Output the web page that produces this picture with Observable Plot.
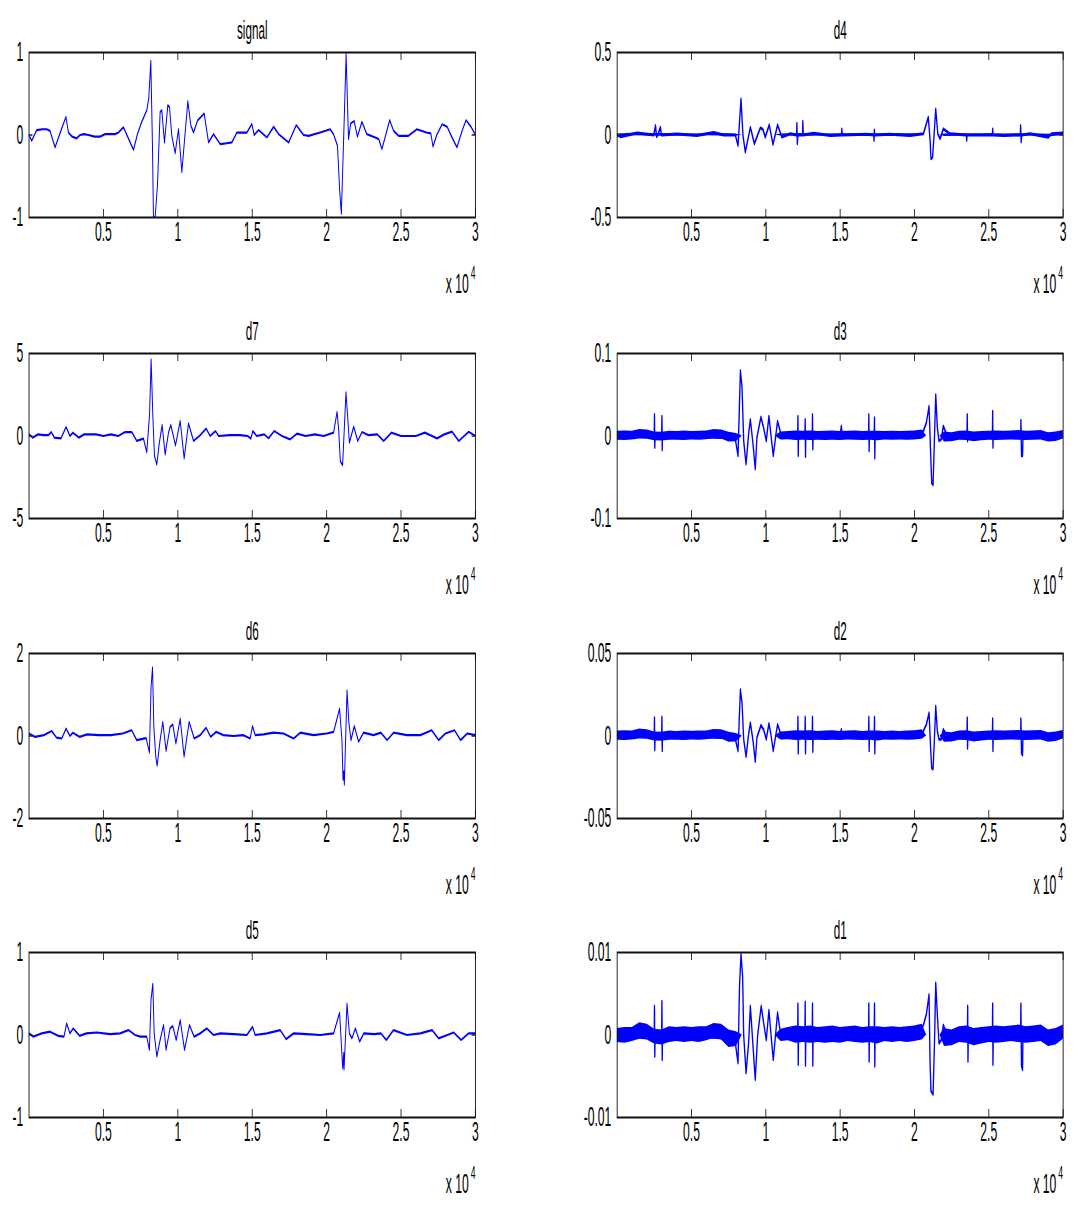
<!DOCTYPE html>
<html>
<head>
<meta charset="utf-8">
<script src="https://cdn.jsdelivr.net/npm/d3@7"></script>
<script src="https://cdn.jsdelivr.net/npm/@observablehq/plot@0.6"></script>
<style>
  html, body { margin: 0; padding: 0; background: #fff; overflow: hidden; }
  /* the figure is laid out wide and then compressed horizontally */
  #fig { position: relative; width: 2402px; height: 1209px; transform: scaleX(0.45); transform-origin: 0 0; }
  #fig svg { position: absolute; }
</style>
</head>
<body>
<div id="fig"></div>
<script>
// Sample index (0..30000) and amplitude of each trace, as [x, y] pairs.
const signal = [[0,0],[180,-0.07],[520,0.06],[900,0.07],[1190,0.07],[1410,0.05],[1750,-0.15],[2100,0.03],[2480,0.22],[2650,0.03],[2900,-0.02],[3200,-0.04],[3430,0],[3700,0.01],[3990,0],[4400,-0.02],[4780,-0.02],[5110,0.01],[5780,0.01],[6010,0.03],[6345,0.095],[6700,-0.05],[7018,-0.18],[7300,0.02],[7578,0.16],[7914,0.30],[8050,0.45],[8184,0.90],[8296,-0.13],[8363,-1.0],[8475,-1.0],[8632,-0.61],[8811,0.28],[8923,0.30],[9103,-0.09],[9327,0.36],[9440,0.34],[9597,-0.01],[9821,-0.22],[10046,0.07],[10270,-0.45],[10494,0.03],[10674,0.41],[10875,0.115],[11055,0.03],[11324,0.175],[11772,0.26],[12064,-0.09],[12400,0.01],[12848,-0.11],[13300,-0.10],[13633,-0.09],[13970,0.03],[14640,0.03],[14976,0.135],[15130,0.0],[15430,0.06],[15990,-0.03],[16440,0.10],[16780,0.01],[17450,-0.09],[17960,0.12],[18450,0.0],[18790,-0.01],[19570,0.03],[20240,0.07],[20460,0.01],[20730,-0.13],[20870,-0.65],[20990,-0.955],[21130,-0.13],[21310,0.98],[21470,-0.05],[21620,0.14],[21850,0.17],[22070,-0.02],[22370,0.16],[22700,0.01],[23270,-0.03],[23500,-0.05],[23720,-0.17],[24240,0.18],[24500,0.05],[24840,-0.01],[25500,-0.01],[26070,0.07],[26700,0.03],[27000,0.02],[27150,-0.14],[27400,0.0],[27760,0.13],[28100,0.10],[28400,-0.02],[28760,-0.15],[29100,0.05],[29370,0.18],[29700,0.10],[30000,0.0]];

const d7 = [[0,0.1],[250,-0.1],[600,0.1],[1000,0.05],[1300,0.05],[1500,0.24],[1700,-0.1],[2150,-0.14],[2490,0.55],[2750,0.0],[2950,0.2],[3350,-0.1],[3700,0.1],[4500,0.1],[5000,0.0],[5500,0.1],[6000,0.0],[6457,0.24],[6906,0.24],[7240,-0.3],[7690,-0.16],[7914,-0.98],[8100,1.3],[8206,4.63],[8318,1.3],[8430,-1.22],[8587,-1.73],[8760,-0.4],[8946,0.67],[9148,-1.12],[9380,0.24],[9530,0.67],[9844,-0.57],[10158,0.91],[10427,-1.36],[10718,0.77],[11055,-0.3],[11500,0.05],[11905,0.45],[12170,0.0],[12533,0.3],[12740,0.0],[13500,0.05],[14191,0.05],[14700,0.0],[14910,-0.16],[15040,0.3],[15300,0.0],[15800,0.1],[16100,-0.14],[16480,0.3],[17000,0.0],[17550,-0.2],[18000,0.14],[18600,0.0],[19200,0.1],[19800,0.0],[20470,0.2],[20700,1.46],[20810,0.4],[20920,-1.52],[21075,-1.77],[21300,2.64],[21410,1.22],[21530,-0.4],[21820,0.57],[22090,-0.3],[22380,0.24],[22800,0.05],[23400,0.1],[23830,-0.3],[24350,0.2],[25000,0.0],[26000,0.0],[26600,0.2],[27420,-0.14],[27900,0.1],[28430,0.26],[28880,-0.3],[29550,0.26],[30000,0.0]];

const d6 = [[0,0.06],[400,-0.02],[1000,0.02],[1520,0.12],[1850,-0.04],[2200,-0.06],[2490,0.18],[2750,0.0],[2950,0.08],[3400,-0.02],[3900,0.04],[4700,0.02],[5500,0.02],[6300,0.06],[6900,0.14],[7240,-0.1],[7870,-0.05],[8090,-0.4],[8200,1.18],[8300,1.66],[8390,0.2],[8520,-0.5],[8610,-0.72],[8810,-0.1],[8990,0.34],[9210,-0.36],[9480,0.22],[9660,0.28],[9870,-0.18],[10160,0.42],[10420,-0.5],[10760,0.34],[11100,-0.06],[11500,0.02],[11900,0.2],[12210,-0.02],[12580,0.1],[13060,0.02],[13740,0.0],[14400,0.02],[14860,-0.06],[15020,0.24],[15200,0.02],[15760,0.04],[16430,0.08],[17100,0.06],[17780,-0.06],[18230,0.08],[19120,0.02],[20000,0.06],[20470,0.1],[20870,0.66],[21030,-0.1],[21100,-1.06],[21150,-0.86],[21190,-1.18],[21370,1.1],[21500,0.3],[21640,-0.1],[21860,0.24],[22150,-0.14],[22480,0.08],[23150,0.02],[23650,0.08],[24060,-0.1],[24500,0.08],[25400,0.02],[26300,0.02],[27060,0.14],[27530,-0.1],[27980,0.06],[28590,0.14],[29000,-0.1],[29450,0.06],[30000,0.02]];

const d5 = [[0,0.02],[290,-0.02],[850,0.02],[1410,0.04],[1970,-0.01],[2350,-0.02],[2530,0.14],[2750,0.02],[2970,0.08],[3400,-0.01],[3850,0.02],[4550,0.03],[5450,0.01],[6120,0.02],[6680,0.06],[7130,0.0],[7470,-0.02],[7910,-0.02],[8090,-0.18],[8200,0.43],[8320,0.62],[8410,0.02],[8590,-0.26],[8810,-0.06],[9040,0.12],[9210,-0.18],[9480,0.08],[9660,0.11],[9890,-0.06],[10160,0.18],[10450,-0.18],[10780,0.12],[11100,-0.02],[11500,0.02],[11950,0.08],[12400,0.0],[12850,0.02],[13740,0.01],[14640,0.0],[15020,0.1],[15200,0.0],[15990,0.02],[16880,0.06],[17280,-0.05],[17780,0.02],[18680,0.01],[19570,0.0],[20470,0.02],[20870,0.27],[21000,-0.14],[21080,-0.4],[21150,-0.22],[21170,-0.42],[21370,0.38],[21530,0.02],[21700,-0.04],[21930,0.08],[22220,-0.08],[22500,0.02],[23200,0.01],[23650,0.02],[24010,-0.06],[24500,0.06],[25400,0.0],[26300,0.02],[27080,0.06],[27530,-0.04],[28540,0.03],[29040,-0.06],[29550,0.02],[30000,0.02]];

const d4 = [[0,0],[220,-0.01],[1340,0.012],[2460,0.0],[2580,0.057],[2650,-0.01],[2730,0.0],[2910,0.047],[2980,0.0],[4030,0.006],[5370,-0.003],[6490,0.015],[7160,0.0],[7950,0.0],[8130,-0.063],[8330,0.218],[8460,0.0],[8620,-0.104],[8960,0.047],[9230,-0.053],[9630,0.043],[9800,0.035],[9960,-0.013],[10230,0.061],[10480,-0.057],[10790,0.061],[11080,-0.013],[11640,0.007],[12070,0.0],[12090,0.071],[12120,-0.053],[12160,0.0],[12470,0.0],[12490,0.083],[12520,0.0],[13210,0.01],[14340,-0.003],[15090,0.0],[15110,0.037],[15140,0.0],[16800,0.005],[17260,0.0],[17280,-0.033],[17300,0.03],[17330,0.0],[18360,0.005],[19700,-0.003],[20600,0.007],[20930,0.108],[21050,-0.03],[21110,-0.144],[21220,-0.134],[21430,0.158],[21570,0.007],[21720,-0.023],[21940,0.037],[22390,0.007],[23490,0.0],[23510,-0.033],[23540,0.0],[25240,0.0],[25260,0.037],[25290,0.0],[25980,-0.003],[27120,0.0],[27140,0.057],[27180,-0.043],[27220,0.0],[27770,0.007],[29000,-0.013],[29230,0.008],[30000,0.012]];

const d3 = [[0,0],[2490,0],[2510,0.026],[2530,-0.014],[2550,0],[2990,0],[3010,0.024],[3030,-0.017],[3050,0],[7700,-0.002],[7950,-0.004],[8130,-0.024],[8290,0.079],[8400,0.059],[8510,-0.006],[8670,-0.034],[8840,0.002],[8960,0.02],[9140,-0.01],[9290,-0.04],[9400,-0.002],[9670,0.023],[9850,0.01],[10030,-0.006],[10210,0.024],[10340,0.002],[10500,-0.024],[10790,0.018],[11080,-0.002],[12140,0],[12160,0.024],[12180,-0.024],[12200,0],[12630,0],[12650,0.02],[12670,-0.025],[12690,0],[13120,0],[13140,0.026],[13160,-0.016],[13180,0],[15000,0.002],[15080,0.012],[15150,0],[16910,0],[16930,0.026],[16950,-0.018],[16970,0],[17290,0],[17310,0.022],[17330,-0.027],[17350,0],[20300,0.002],[20600,0.006],[20800,0.016],[20980,0.036],[21090,-0.022],[21160,-0.057],[21250,-0.059],[21340,-0.006],[21430,0.05],[21540,0.01],[21650,-0.006],[21800,-0.004],[21940,0.012],[22200,0],[23530,0],[23550,0.026],[23570,-0.006],[23590,0],[25240,0],[25260,0.03],[25280,-0.014],[25300,0],[27140,0],[27160,0.019],[27200,-0.024],[27270,-0.024],[27300,0],[30000,0]];

const d2 = [[0,0],[2490,0],[2510,0.011],[2530,-0.0085],[2550,0],[2990,0],[3010,0.0115],[3030,-0.009],[3050,0],[7700,-0.001],[7950,-0.002],[8130,-0.009],[8290,0.028],[8400,0.02],[8510,-0.002],[8670,-0.0125],[8840,0.001],[8960,0.008],[9140,-0.003],[9290,-0.0155],[9400,-0.001],[9670,0.0065],[9850,0.004],[10030,-0.002],[10210,0.0075],[10340,0.001],[10500,-0.009],[10790,0.007],[11080,-0.001],[12140,0],[12160,0.0115],[12180,-0.0105],[12200,0],[12630,0],[12650,0.0115],[12670,-0.0105],[12690,0],[13120,0],[13140,0.0115],[13160,-0.0095],[13180,0],[15000,0.001],[15080,0.004],[15150,0],[16910,0],[16930,0.0115],[16950,-0.009],[16970,0],[17290,0],[17310,0.0115],[17330,-0.0105],[17350,0],[20300,0.001],[20600,0.003],[20800,0.007],[20980,0.014],[21090,-0.008],[21160,-0.0195],[21250,-0.02],[21340,-0.002],[21430,0.018],[21540,0.003],[21650,-0.002],[21800,-0.002],[21940,0.004],[22200,0],[23530,0],[23550,0.011],[23570,-0.0075],[23590,0],[25240,0],[25260,0.0105],[25280,-0.009],[25300,0],[27140,0],[27160,0.0105],[27200,-0.0105],[27270,-0.0115],[27300,0],[30000,0]];

const d1 = [[0,0],[2490,0],[2510,0.0035],[2530,-0.0026],[2550,0],[2990,0],[3010,0.0041],[3030,-0.003],[3050,0],[7700,-0.0004],[7950,-0.001],[8130,-0.0034],[8230,0.0059],[8330,0.0098],[8440,0.0071],[8510,0.0],[8670,-0.0046],[8840,-0.001],[8960,0.0035],[9140,-0.0014],[9290,-0.0054],[9450,0.0],[9690,0.0035],[9850,0.0015],[10030,-0.0006],[10210,0.003],[10340,0.0002],[10500,-0.003],[10790,0.0027],[11000,0.0],[12140,0],[12160,0.0038],[12180,-0.0036],[12200,0],[12630,0],[12650,0.004],[12670,-0.0037],[12690,0],[13120,0],[13140,0.0038],[13160,-0.0037],[13180,0],[15000,0.0002],[15080,0.0008],[15150,0],[16910,0],[16930,0.0038],[16950,-0.0032],[16970,0],[17290,0],[17310,0.0038],[17330,-0.0038],[17350,0],[20300,0.0003],[20600,0.0012],[20800,0.0025],[20980,0.0049],[21050,-0.0034],[21110,-0.0068],[21250,-0.0072],[21340,-0.0014],[21430,0.0063],[21540,0.0024],[21650,-0.001],[21800,-0.0006],[21940,0.0012],[22200,0],[23560,0],[23580,0.0035],[23600,-0.0032],[23620,0],[25240,0],[25260,0.0038],[25280,-0.0036],[25300,0],[27140,0],[27160,0.0038],[27200,-0.0038],[27270,-0.0042],[27300,0],[30000,0]];

// Envelope of the dense noise around the detail traces: [x, lower, upper]
const d4Band = [[0,-0.008,0.006],[1000,-0.005,0.01],[2000,-0.006,0.008],[3000,-0.007,0.009],[4000,-0.006,0.007],[5000,-0.007,0.006],[6000,-0.005,0.008],[7000,-0.006,0.009],[8000,-0.008,0.004],[8400,0,0],[10600,0,0],[11000,-0.006,0.006],[12000,-0.006,0.009],[13000,-0.007,0.008],[14000,-0.006,0.006],[15000,-0.007,0.007],[16000,-0.006,0.006],[17000,-0.007,0.007],[18000,-0.006,0.006],[19000,-0.007,0.007],[20000,-0.006,0.007],[20700,0,0],[21700,0,0],[22000,-0.009,0.006],[23000,-0.007,0.007],[24000,-0.008,0.006],[25000,-0.006,0.007],[26000,-0.007,0.006],[27000,-0.007,0.007],[28000,-0.006,0.007],[29000,-0.011,0.004],[30000,-0.004,0.008]];

const d3Band = [[0,-0.005,0.0058],[500,-0.0055,0.0062],[1000,-0.0048,0.0058],[1500,-0.0036,0.008],[2000,-0.004,0.0074],[2500,-0.0058,0.005],[3000,-0.0062,0.0045],[3500,-0.0052,0.0058],[4000,-0.005,0.0055],[4500,-0.0054,0.006],[5000,-0.0048,0.0056],[5500,-0.0052,0.0058],[6000,-0.0044,0.006],[6500,-0.003,0.0078],[7000,-0.0036,0.0074],[7500,-0.0074,0.0044],[8000,-0.007,0.003],[8400,0,0],[10600,0,0],[11000,-0.0048,0.0048],[11500,-0.0044,0.0055],[12000,-0.0055,0.0062],[12500,-0.0052,0.0058],[13000,-0.0055,0.0062],[13500,-0.0052,0.0055],[14000,-0.0055,0.0058],[14500,-0.0052,0.0062],[15000,-0.0055,0.0056],[15500,-0.0048,0.0058],[16000,-0.0052,0.0062],[16500,-0.0055,0.0056],[17000,-0.0052,0.0058],[17500,-0.0058,0.0058],[18000,-0.0048,0.0055],[18500,-0.0052,0.0058],[19000,-0.0048,0.0055],[19500,-0.0052,0.0058],[20000,-0.0048,0.0062],[20500,-0.004,0.0074],[20800,0,0],[21700,0,0],[22000,-0.0074,0.0048],[22500,-0.007,0.004],[23000,-0.0052,0.0058],[23500,-0.0055,0.0062],[24000,-0.007,0.0048],[24500,-0.0058,0.0055],[25000,-0.0052,0.0058],[25500,-0.0055,0.0062],[26000,-0.0052,0.0058],[26500,-0.0048,0.0062],[27000,-0.0052,0.0066],[27500,-0.0055,0.0058],[28000,-0.0052,0.0062],[28500,-0.0048,0.0066],[29000,-0.0074,0.004],[29500,-0.0066,0.0048],[30000,-0.0036,0.0066]];

const d2Band = [[0,-0.0025,0.003],[500,-0.0028,0.0032],[1000,-0.0024,0.003],[1500,-0.0018,0.0042],[2000,-0.002,0.0038],[2500,-0.003,0.0025],[3000,-0.0032,0.0022],[3500,-0.0026,0.003],[4000,-0.0025,0.0028],[4500,-0.0027,0.0031],[5000,-0.0024,0.0029],[5500,-0.0026,0.003],[6000,-0.0022,0.0031],[6500,-0.0015,0.004],[7000,-0.0018,0.0038],[7500,-0.0038,0.0022],[8000,-0.0036,0.0015],[8400,0,0],[10600,0,0],[11000,-0.0024,0.0024],[11500,-0.0022,0.0028],[12000,-0.0028,0.0032],[12500,-0.0026,0.003],[13000,-0.0028,0.0032],[13500,-0.0026,0.0028],[14000,-0.0028,0.003],[14500,-0.0026,0.0032],[15000,-0.0028,0.0028],[15500,-0.0024,0.003],[16000,-0.0026,0.0032],[16500,-0.0028,0.0028],[17000,-0.0026,0.003],[17500,-0.003,0.003],[18000,-0.0024,0.0028],[18500,-0.0026,0.003],[19000,-0.0024,0.0028],[19500,-0.0026,0.003],[20000,-0.0024,0.0032],[20500,-0.002,0.0038],[20800,0,0],[21700,0,0],[22000,-0.0038,0.0024],[22500,-0.0036,0.002],[23000,-0.0026,0.003],[23500,-0.0028,0.0032],[24000,-0.0036,0.0024],[24500,-0.003,0.0028],[25000,-0.0026,0.003],[25500,-0.0028,0.0032],[26000,-0.0026,0.003],[26500,-0.0024,0.0032],[27000,-0.0026,0.0034],[27500,-0.0028,0.003],[28000,-0.0026,0.0032],[28500,-0.0024,0.0034],[29000,-0.0038,0.002],[29500,-0.0034,0.0024],[30000,-0.0018,0.0034]];

const d1Band = [[0,-0.0009,0.0008],[500,-0.001,0.0009],[1000,-0.0008,0.0009],[1500,-0.0005,0.0015],[2000,-0.0006,0.0013],[2500,-0.0011,0.0007],[3000,-0.0012,0.0006],[3500,-0.0009,0.001],[4000,-0.0008,0.0009],[4500,-0.0009,0.001],[5000,-0.0008,0.0009],[5500,-0.0009,0.001],[6000,-0.0007,0.001],[6500,-0.0004,0.0014],[7000,-0.0006,0.0013],[7500,-0.0015,0.0006],[8000,-0.0014,0.0004],[8400,0,0],[10600,0,0],[11000,-0.0008,0.0007],[11500,-0.0007,0.0009],[12000,-0.001,0.0011],[12500,-0.0009,0.001],[13000,-0.001,0.0011],[13500,-0.0009,0.0009],[14000,-0.001,0.001],[14500,-0.0009,0.0011],[15000,-0.001,0.0009],[15500,-0.0008,0.001],[16000,-0.0009,0.0011],[16500,-0.001,0.0009],[17000,-0.0009,0.001],[17500,-0.0011,0.001],[18000,-0.0008,0.0009],[18500,-0.0009,0.001],[19000,-0.0008,0.0009],[19500,-0.0009,0.001],[20000,-0.0008,0.0011],[20500,-0.0006,0.0013],[20800,0,0],[21700,0,0],[22000,-0.0014,0.0008],[22500,-0.0013,0.0006],[23000,-0.0009,0.001],[23500,-0.001,0.0011],[24000,-0.0013,0.0008],[24500,-0.0011,0.0009],[25000,-0.0009,0.001],[25500,-0.001,0.0011],[26000,-0.0009,0.001],[26500,-0.0008,0.0011],[27000,-0.0009,0.0012],[27500,-0.001,0.001],[28000,-0.0009,0.0011],[28500,-0.0008,0.0012],[29000,-0.0014,0.0006],[29500,-0.0012,0.0008],[30000,-0.0005,0.0012]];

// Axis ticks (x in samples, labelled in units of 10^4)
const xTicks = [5000, 10000, 15000, 20000, 25000, 30000];
const xTickLabels = ["0.5", "1", "1.5", "2", "2.5", "3"];

const titles = ["signal", "d4", "d7", "d3", "d6", "d2", "d5", "d1"];
const yLimits = [1, 0.5, 5, 0.1, 2, 0.05, 1, 0.01];
const yTickLabels = [
  ["-1", "0", "1"], ["-0.5", "0", "0.5"],
  ["-5", "0", "5"], ["-0.1", "0", "0.1"],
  ["-2", "0", "2"], ["-0.05", "0", "0.05"],
  ["-1", "0", "1"], ["-0.01", "0", "0.01"]
];
const series = [signal, d4, d7, d3, d6, d2, d5, d1];
const bands = [null, d4Band, null, d3Band, null, d2Band, null, d1Band];

const fig = document.getElementById("fig");
const PW = 1201, PH = 300;
const MT = 52, MB = 83;
const frameH = PH - MT - MB;
const rowTop = [0, 301, 601, 900];
const font = "'Liberation Sans', Arial, Helvetica, sans-serif";
const blue = "#0000ff";

series.forEach((data, i) => {
  const col = i % 2, row = Math.floor(i / 2);
  const ml = col === 0 ? 64 : 170;
  const mr = col === 0 ? 145 : 40;
  const frameW = PW - ml - mr;
  const lim = yLimits[i];
  const rows = data.map(([x, y]) => ({x, y}));
  const yTicks = [-lim, 0, lim];
  const band = bands[i];

  const marks = [];
  if (band) {
    marks.push(Plot.areaY(band, {x: d => d[0], y1: d => d[1], y2: d => d[2], fill: blue}));
  }
  marks.push(
    Plot.line(rows, {x: "x", y: "y", stroke: blue, strokeWidth: band ? 3 : 2.2, clip: true}),
    // inward tick marks on top and bottom edges
    Plot.tickX(xTicks, {x: d => d, insetBottom: frameH - 8, stroke: "#222", strokeWidth: 2}),
    Plot.tickX(xTicks, {x: d => d, insetTop: frameH - 8, stroke: "#222", strokeWidth: 2}),
    // inward tick marks at zero on left and right edges
    Plot.tickY([0], {y: d => d, insetRight: frameW - 8, stroke: "#222", strokeWidth: 1.5}),
    Plot.tickY([0], {y: d => d, insetLeft: frameW - 8, stroke: "#222", strokeWidth: 1.5}),
    Plot.frame({stroke: "#111", strokeWidth: 2}),
    Plot.text(xTicks, {x: d => d, frameAnchor: "bottom", dy: 23, text: (d, j) => xTickLabels[j], fontSize: 27}),
    Plot.text(yTicks, {y: d => d, frameAnchor: "left", dx: -13, textAnchor: "end", text: (d, j) => yTickLabels[i][j], fontSize: 27}),
    Plot.text([titles[i]], {frameAnchor: "top", dy: -32, fontSize: 26}),
    Plot.text(["x 10"], {frameAnchor: "bottom-right", dx: -15, dy: 75, textAnchor: "end", fontSize: 27}),
    Plot.text(["4"], {frameAnchor: "bottom-right", dx: 0, dy: 61, textAnchor: "end", fontSize: 19})
  );

  const svg = Plot.plot({
    width: PW,
    height: PH,
    marginTop: MT,
    marginBottom: MB,
    marginLeft: ml,
    marginRight: mr,
    x: {domain: [0, 30000], axis: null},
    y: {domain: [-lim, lim], axis: null},
    style: {fontFamily: font, fontSize: "27px", color: "#000", background: "transparent", overflow: "visible"},
    marks
  });
  svg.style.left = (col * PW) + "px";
  svg.style.top = rowTop[row] + "px";
  fig.appendChild(svg);
});
</script>
</body>
</html>
